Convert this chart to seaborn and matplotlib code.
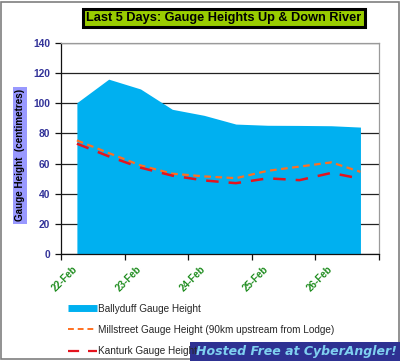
import pandas as pd
import seaborn as sns
import matplotlib.pyplot as plt
import matplotlib.dates as mdates
import matplotlib.transforms as mtransforms
from matplotlib.patches import Rectangle
from matplotlib.lines import Line2D

sns.set_style("white")
plt.rcParams["font.family"] = ["Liberation Sans", "DejaVu Sans"]

# readings, every 12 hours
times = [
    "2010-02-22 06:00", "2010-02-22 18:00", "2010-02-23 06:00", "2010-02-23 18:00",
    "2010-02-24 06:00", "2010-02-24 18:00", "2010-02-25 06:00", "2010-02-25 18:00",
    "2010-02-26 06:00", "2010-02-26 17:00",
]
ballyduff = [100.4, 116.0, 109.5, 96.0, 92.0, 86.2, 85.4, 85.3, 85.1, 84.2]
millstreet = [75.4, 67.0, 58.8, 53.3, 51.5, 50.3, 55.2, 58.0, 60.8, 54.5]
kanturk = [73.2, 64.8, 57.3, 52.0, 48.8, 47.0, 50.2, 49.0, 53.8, 50.0]

labels = [
    "Ballyduff Gauge Height",
    "Millstreet Gauge Height (90km upstream from Lodge)",
    "Kanturk Gauge Height",
]

df = pd.DataFrame({
    "time": pd.to_datetime(times),
    "ballyduff": ballyduff,
    "millstreet": millstreet,
    "kanturk": kanturk,
})

blue = "#00B0F0"
orange = "#FF7020"
red = "#E4141E"

fig = plt.figure(figsize=(4, 3.61), dpi=100)
ax = fig.add_axes([0.1525, 0.2964, 0.795, 0.5845])

ax.fill_between(df["time"], df["ballyduff"], color=blue, lw=0, zorder=2)
sns.lineplot(df, x="time", y="millstreet", ax=ax, color=orange, lw=1.6,
             dashes=False, zorder=3)
sns.lineplot(df, x="time", y="kanturk", ax=ax, color=red, lw=1.8,
             dashes=False, zorder=4)
ax.lines[0].set_dashes([3, 2])
ax.lines[1].set_dashes([5, 4])

ax.set_ylim(0, 140)
ax.set_yticks(range(0, 141, 20))
ax.set_xlim(pd.Timestamp("2010-02-22"), pd.Timestamp("2010-02-27"))
ax.xaxis.set_major_locator(mdates.DayLocator())
ax.xaxis.set_major_formatter(mdates.DateFormatter("%d-%b"))

ax.yaxis.grid(True, color="#222222", lw=0.9)
ax.set_axisbelow(True)

for side in ["top", "right"]:
    ax.spines[side].set_color("#9a9a9a")
    ax.spines[side].set_linewidth(0.9)
for side in ["left", "bottom"]:
    ax.spines[side].set_color("#111111")
    ax.spines[side].set_linewidth(0.9)

ax.tick_params(axis="y", direction="out", length=4, width=0.9, color="#111111",
               left=True, pad=4, labelsize=7.4, labelcolor="#333399")
ax.tick_params(axis="x", direction="out", length=4, width=0.9, color="#111111",
               bottom=True, pad=3, labelsize=7.0, labelcolor="#1E8C1E")
for t in ax.get_yticklabels():
    t.set_fontweight("bold")
shift = mtransforms.ScaledTranslation(4 / 100, 0, fig.dpi_scale_trans)
xlabels = ax.get_xticklabels()
for t in xlabels:
    t.set_fontweight("bold")
    t.set_rotation(45)
    t.set_ha("center")
    t.set_transform(t.get_transform() + shift)
xlabels[-1].set_visible(False)

ax.set_xlabel("")
ax.set_ylabel("")
fig.text(0.05, 0.57, "Gauge Height  (centimetres)", rotation=90, ha="center",
         va="center", fontsize=7.1, fontweight="bold", color="black",
         bbox=dict(boxstyle="square,pad=0.25", fc="#9999FF", ec="none"))

fig.text(0.56, 0.95, "Last 5 Days: Gauge Heights Up & Down River", ha="center",
         va="center", fontsize=9.2, fontweight="bold", color="black",
         bbox=dict(boxstyle="square,pad=0.25", fc="#99CC00", ec="black", lw=2.2))

handles = [
    Line2D([], [], color=blue, lw=5, solid_capstyle="butt"),
    Line2D([], [], color=orange, lw=1.4, dashes=[3, 2]),
    Line2D([], [], color=red, lw=1.6, dashes=[5, 4]),
]
fig.legend(handles, labels, loc="upper left", bbox_to_anchor=(0.16, 0.17),
           frameon=False, fontsize=7.2, handlelength=2.9, handletextpad=0.15,
           labelspacing=1.12, borderaxespad=0)

# figure border
fig.patches.append(Rectangle((0.003, 0.005), 0.994, 0.99, transform=fig.transFigure,
                             fill=False, ec="#7f7f7f", lw=1.2))

# hosting banner
fig.patches.append(Rectangle((0.475, 0.0), 0.525, 0.053, transform=fig.transFigure,
                             fc="#2E3192", ec="none", zorder=5))
fig.text(0.49, 0.026, "Hosted Free at CyberAngler!", ha="left", va="center",
         fontsize=9.0, fontweight="bold", fontstyle="italic", color="#7FD0F0",
         family="DejaVu Sans", zorder=6)

fig.savefig("out.png", dpi=100)
